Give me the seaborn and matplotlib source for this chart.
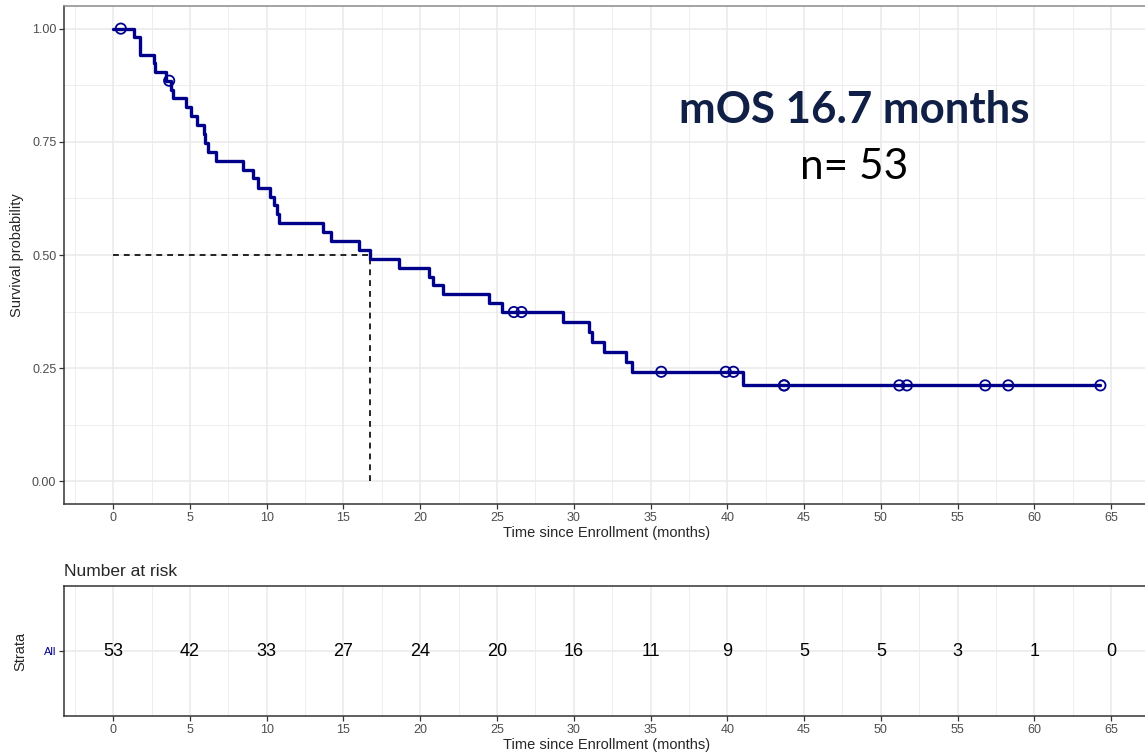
import matplotlib
matplotlib.use("Agg")
import numpy as np
import pandas as pd
import matplotlib.pyplot as plt
import seaborn as sns

# Kaplan-Meier steps (months, survival probability)
step_time = [0, 1.35, 1.74, 2.63, 2.75, 3.43, 3.8, 3.9, 4.74,
             5.05, 5.43, 5.91, 6.0, 6.15, 6.73, 8.47, 9.12, 9.45,
             10.2, 10.47, 10.65, 10.83, 13.7, 14.2,
             16.0, 16.73, 18.6,
             20.6, 20.85, 21.46, 24.5,
             25.3, 29.3,
             31.0, 31.2, 32.0, 33.4, 33.8,
             41.0, 64.3]
step_surv = [1.0, 0.981, 0.942, 0.923, 0.904, 0.885, 0.865, 0.846, 0.826,
             0.806, 0.787, 0.767, 0.747, 0.728, 0.708, 0.688, 0.669, 0.649,
             0.629, 0.610, 0.590, 0.570, 0.551, 0.531,
             0.511, 0.492, 0.472,
             0.452, 0.433, 0.413, 0.393,
             0.374, 0.352,
             0.330, 0.308, 0.286, 0.264, 0.242,
             0.212, 0.212]

# censored observations
cens_time = [0.5, 3.65, 26.1, 26.6, 35.7, 39.9, 40.4, 43.7, 43.7, 51.2, 51.7, 56.8, 58.3, 64.3]
cens_surv = [1.0, 0.885, 0.374, 0.374, 0.242, 0.242, 0.242, 0.212, 0.212, 0.212, 0.212, 0.212, 0.212, 0.212]

median_os = 16.7

# number at risk table
risk_time = [0, 5, 10, 15, 20, 25, 30, 35, 40, 45, 50, 55, 60, 65]
risk_n = [53, 42, 33, 27, 24, 20, 16, 11, 9, 5, 5, 3, 1, 0]

curve_col = "#00008B"
sns.set_theme(style="whitegrid")
plt.rcParams['font.family'] = ['Liberation Sans', 'DejaVu Sans']

fig = plt.figure(figsize=(11.45, 7.56), dpi=100)
W, H = 1145, 756
xlim = (-3.2, 67.5)
px_per_unit = (1111 - 113) / 65
ax_w = (xlim[1] - xlim[0]) * px_per_unit / W
ax = fig.add_axes([64 / W, (H - 504) / H, ax_w, 498 / H])
ax_r = fig.add_axes([64 / W, (H - 716) / H, ax_w, 130 / H])

surv = pd.DataFrame({'time': step_time, 'surv': step_surv})
cens = pd.DataFrame({'time': cens_time, 'surv': cens_surv})

# median lines
ax.plot([0, median_os], [0.5, 0.5], color='black', ls=(0, (3.5, 3)), lw=1.2, zorder=2)
ax.plot([median_os, median_os], [0, 0.5], color='black', ls=(0, (3.5, 3)), lw=1.2, zorder=2)

sns.lineplot(data=surv, x='time', y='surv', drawstyle='steps-post', estimator=None,
             color=curve_col, lw=2.4, ax=ax, zorder=3)
sns.scatterplot(data=cens, x='time', y='surv', marker='o', s=55, facecolor='none',
                edgecolor=curve_col, linewidth=1.3, ax=ax, zorder=4)

def style_axes(a):
    a.set_xlim(*xlim)
    a.set_xticks(range(0, 70, 5))
    a.set_xticks(np.arange(-2.5, 70, 5), minor=True)
    a.grid(which='major', color='#EBEBEB', lw=1.2)
    a.grid(which='minor', color='#EBEBEB', lw=0.6)
    a.set_facecolor('white')
    a.tick_params(which='major', length=3.5, width=0.9, color='#333333',
                  labelcolor='#4D4D4D', labelsize=9, pad=2)
    a.tick_params(which='minor', length=0)
    a.tick_params(axis='both', which='major', bottom=True, left=True)
    for side in ['left', 'bottom']:
        a.spines[side].set_color('#333333')
        a.spines[side].set_linewidth(1.1)
    for side in ['top', 'right']:
        a.spines[side].set_color('#8A8A8A')
        a.spines[side].set_linewidth(1.1)
    a.set_axisbelow(True)

style_axes(ax)
ax.set_ylim(-0.05, 1.05)
ax.set_yticks([0, 0.25, 0.5, 0.75, 1.0])
ax.set_yticklabels(['0.00', '0.25', '0.50', '0.75', '1.00'])
ax.set_yticks([0.125, 0.375, 0.625, 0.875], minor=True)
ax.set_xlabel('Time since Enrollment (months)', fontsize=10.5, labelpad=2)
ax.set_ylabel('Survival probability', fontsize=10.5, labelpad=6)

ax.text(854, H - 110, 'mOS 16.7 months', transform=None, ha='center', va='center',
        fontsize=31.5, fontweight='bold', color='#0F1F45', family=['Lato', 'DejaVu Sans'])
ax.text(854, H - 167, 'n= 53', transform=None, ha='center', va='center',
        fontsize=30.5, color='black', family=['Lato', 'DejaVu Sans'])

# risk table
style_axes(ax_r)
ax_r.spines['top'].set_color('#333333')
ax_r.set_ylim(0.4, 1.6)
ax_r.set_yticks([1])
ax_r.set_yticklabels(['All'], color=curve_col, fontsize=8)
for t, n in zip(risk_time, risk_n):
    ax_r.text(t, 1, str(n), ha='center', va='center', fontsize=13, color='black')
ax_r.set_xlabel('Time since Enrollment (months)', fontsize=10.5, labelpad=2)
ax_r.set_ylabel('Strata', fontsize=10.5, labelpad=12)
ax_r.set_title('Number at risk', loc='left', fontsize=12.5, pad=7)

fig.savefig('out.png', dpi=100)
